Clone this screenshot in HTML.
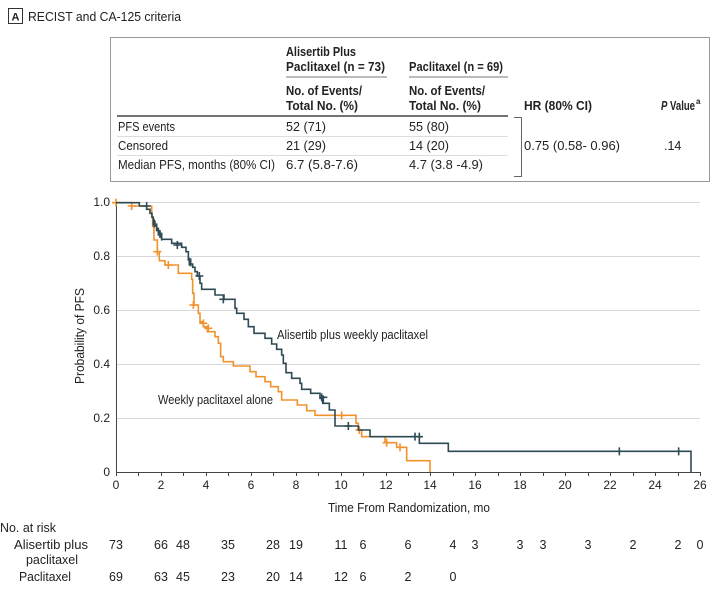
<!DOCTYPE html>
<html><head><meta charset="utf-8"><style>
body{margin:0;background:#fff;}
svg{display:block;font-family:"Liberation Sans Narrow","Liberation Sans",sans-serif;}
</style></head><body>
<svg width="724" height="592" viewBox="0 0 724 592" xmlns="http://www.w3.org/2000/svg">
<rect x="8.5" y="8.5" width="14" height="15" fill="none" stroke="#333" stroke-width="1"/>
<text x="15.5" y="20.5" font-size="11" font-weight="bold" text-anchor="middle" fill="#222">A</text>
<text x="28" y="21" font-size="13" fill="#222" textLength="153" lengthAdjust="spacingAndGlyphs">RECIST and CA-125 criteria</text>
<rect x="110.5" y="37.5" width="599" height="144" fill="none" stroke="#999" stroke-width="1"/>
<g font-size="12.5" fill="#222" lengthAdjust="spacingAndGlyphs">
<text x="286" y="56" font-weight="bold" textLength="70" lengthAdjust="spacingAndGlyphs">Alisertib Plus</text>
<text x="286" y="71" font-weight="bold" textLength="99" lengthAdjust="spacingAndGlyphs">Paclitaxel (n = 73)</text>
<text x="409" y="71" font-weight="bold" textLength="94" lengthAdjust="spacingAndGlyphs">Paclitaxel (n = 69)</text>
<text x="286" y="95" font-weight="bold" textLength="76" lengthAdjust="spacingAndGlyphs">No. of Events/</text>
<text x="286" y="110" font-weight="bold" textLength="72" lengthAdjust="spacingAndGlyphs">Total No. (%)</text>
<text x="409" y="95" font-weight="bold" textLength="76" lengthAdjust="spacingAndGlyphs">No. of Events/</text>
<text x="409" y="110" font-weight="bold" textLength="72" lengthAdjust="spacingAndGlyphs">Total No. (%)</text>
<text x="524" y="110" font-weight="bold" textLength="68" lengthAdjust="spacingAndGlyphs">HR (80% CI)</text>
<text x="661" y="110" font-weight="bold" textLength="34" lengthAdjust="spacingAndGlyphs"><tspan font-style="italic">P</tspan> Value</text>
<text x="696" y="104" font-size="8" font-weight="bold">a</text>
<text x="118" y="131" textLength="57" lengthAdjust="spacingAndGlyphs">PFS events</text>
<text x="286" y="131" textLength="40" lengthAdjust="spacingAndGlyphs">52 (71)</text>
<text x="409" y="131" textLength="40" lengthAdjust="spacingAndGlyphs">55 (80)</text>
<text x="118" y="150" textLength="50" lengthAdjust="spacingAndGlyphs">Censored</text>
<text x="286" y="150" textLength="40" lengthAdjust="spacingAndGlyphs">21 (29)</text>
<text x="409" y="150" textLength="40" lengthAdjust="spacingAndGlyphs">14 (20)</text>
<text x="524" y="150" textLength="96" lengthAdjust="spacingAndGlyphs">0.75 (0.58- 0.96)</text>
<text x="664" y="150">.14</text>
<text x="118" y="169" textLength="157" lengthAdjust="spacingAndGlyphs">Median PFS, months (80% CI)</text>
<text x="286" y="169" textLength="72" lengthAdjust="spacingAndGlyphs">6.7 (5.8-7.6)</text>
<text x="409" y="169" textLength="74" lengthAdjust="spacingAndGlyphs">4.7 (3.8 -4.9)</text>
</g>
<line x1="286" y1="77" x2="387" y2="77" stroke="#777" stroke-width="1"/>
<line x1="409" y1="77" x2="508" y2="77" stroke="#777" stroke-width="1"/>
<line x1="117" y1="116" x2="508" y2="116" stroke="#444" stroke-width="1.6"/>
<line x1="117" y1="136.5" x2="508" y2="136.5" stroke="#ddd" stroke-width="1"/>
<line x1="117" y1="155.5" x2="508" y2="155.5" stroke="#ddd" stroke-width="1"/>
<polyline points="514,117.5 521.5,117.5 521.5,176.5 514,176.5" fill="none" stroke="#666" stroke-width="1"/>
<g stroke="#d8d8d8" stroke-width="1">
<line x1="116" y1="202.5" x2="700" y2="202.5"/>
<line x1="116" y1="256.5" x2="700" y2="256.5"/>
<line x1="116" y1="310.5" x2="700" y2="310.5"/>
<line x1="116" y1="364.5" x2="700" y2="364.5"/>
<line x1="116" y1="418.5" x2="700" y2="418.5"/>
</g>
<line x1="116.5" y1="202" x2="116.5" y2="472" stroke="#444" stroke-width="1"/>
<line x1="116" y1="472.5" x2="700.5" y2="472.5" stroke="#444" stroke-width="1"/>
<g font-size="12" fill="#222" text-anchor="end">
<text x="110" y="206">1.0</text><text x="110" y="260">0.8</text><text x="110" y="314">0.6</text>
<text x="110" y="368">0.4</text><text x="110" y="422">0.2</text><text x="110" y="476">0</text>
</g>
<g font-size="12" fill="#222" text-anchor="middle">
<text x="116" y="489">0</text><text x="161" y="489">2</text><text x="206" y="489">4</text>
<text x="251" y="489">6</text><text x="296" y="489">8</text><text x="341" y="489">10</text>
<text x="386" y="489">12</text><text x="430" y="489">14</text><text x="475" y="489">16</text>
<text x="520" y="489">18</text><text x="565" y="489">20</text><text x="610" y="489">22</text>
<text x="655" y="489">24</text><text x="700" y="489">26</text>
</g>
<text x="328" y="512" font-size="12.5" fill="#222" textLength="162" lengthAdjust="spacingAndGlyphs">Time From Randomization, mo</text>
<text transform="translate(84,384) rotate(-90)" font-size="12.5" fill="#222" textLength="96" lengthAdjust="spacingAndGlyphs">Probability of PFS</text>
<g stroke="#444" stroke-width="1">
<path d="M116.5 472v4M138.5 472v4M161.5 472v4M183.5 472v4M206.5 472v4M228.5 472v4M251.5 472v4M273.5 472v4M296.5 472v4M318.5 472v4M341.5 472v4M363.5 472v4M386.5 472v4M408.5 472v4M430.5 472v4M453.5 472v4M475.5 472v4M498.5 472v4M520.5 472v4M543.5 472v4M565.5 472v4M588.5 472v4M610.5 472v4M633.5 472v4M655.5 472v4M678.5 472v4M700.5 472v4"/>
</g>
<g transform="translate(100,190) scale(0.33333)" fill="none" stroke-width="4.8">
<path stroke="#f0922e" d="M48,38 H95 V48 H155 V80 H158 V110 H162 V150 H172 V185 H178 V212 H195 V225 H235 V250 H275 V268 H278 V310 H282 V345 H295 V370 H300 V395 H310 V410 H322 V425 H345 V440 H355 V460 H362 V500 H370 V515 H400 V528 H450 V545 H468 V560 H495 V575 H512 V590 H535 V605 H545 V630 H592 V645 H620 V662 H645 V676 H768 V700 H775 V720 H785 V740 H855 V758 H890 V772 H920 V812 H990 V846"/>
<path stroke="#f0922e" d="M48,26v24M36,38h24M95,36v24M83,48h24M172,173v24M160,185h24M205,213v24M193,225h24M280,333v24M268,345h24M310,388v24M298,400h24M325,403v24M313,415h24M725,664v24M713,676h24M778,708v24M766,720h24M860,746v24M848,758h24M900,760v24M888,772h24"/>
<path stroke="#2e4a55" d="M48,38 H118 V48 H140 V58 H150 V70 H156 V82 H160 V95 H165 V108 H170 V118 H175 V128 H180 V138 H185 V148 H215 V160 H245 V172 H258 V185 H265 V210 H272 V222 H278 V232 H285 V245 H292 V258 H300 V280 H305 V298 H345 V315 H372 V328 H405 V355 H410 V370 H432 V388 H445 V410 H462 V430 H495 V445 H515 V462 H530 V478 H545 V495 H550 V520 H558 V548 H575 V565 H600 V580 H605 V598 H632 V610 H660 V625 H668 V640 H688 V660 H705 V708 H775 V720 H810 V740 H958 V760 H1045 V784 H1773 V846"/>
<path stroke="#2e4a55" d="M140,36v24M128,48h24M160,83v24M163,88v24M170,100v24M175,113v24M180,120v24M185,128v24M232,153v24M220,165h24M268,203v24M272,205v24M298,246v24M286,258h24M370,316v24M358,328h24M665,610v24M670,616v24M658,622h24M745,696v24M733,708h24M945,728v24M958,728v24M933,740h36M1558,772v24M1736,772v24"/>
</g>
<text x="277" y="339" font-size="12.5" fill="#222" textLength="151" lengthAdjust="spacingAndGlyphs">Alisertib plus weekly paclitaxel</text>
<text x="158" y="404" font-size="12.5" fill="#222" textLength="115" lengthAdjust="spacingAndGlyphs">Weekly paclitaxel alone</text>
<g font-size="12.5" fill="#222">
<text x="0" y="532" textLength="56" lengthAdjust="spacingAndGlyphs">No. at risk</text>
<text x="14" y="549" textLength="74" lengthAdjust="spacingAndGlyphs">Alisertib plus</text>
<text x="26" y="564" textLength="52" lengthAdjust="spacingAndGlyphs">paclitaxel</text>
<text x="19" y="581" textLength="52" lengthAdjust="spacingAndGlyphs">Paclitaxel</text>
</g>
<g font-size="12.5" fill="#222" text-anchor="middle">
<text x="116" y="549">73</text><text x="161" y="549">66</text><text x="183" y="549">48</text><text x="228" y="549">35</text><text x="273" y="549">28</text><text x="296" y="549">19</text><text x="341" y="549">11</text><text x="363" y="549">6</text><text x="408" y="549">6</text><text x="453" y="549">4</text><text x="475" y="549">3</text><text x="520" y="549">3</text><text x="543" y="549">3</text><text x="588" y="549">3</text><text x="633" y="549">2</text><text x="678" y="549">2</text><text x="700" y="549">0</text>
<text x="116" y="581">69</text><text x="161" y="581">63</text><text x="183" y="581">45</text><text x="228" y="581">23</text><text x="273" y="581">20</text><text x="296" y="581">14</text><text x="341" y="581">12</text><text x="363" y="581">6</text><text x="408" y="581">2</text><text x="453" y="581">0</text>
</g>
</svg>
</body></html>
